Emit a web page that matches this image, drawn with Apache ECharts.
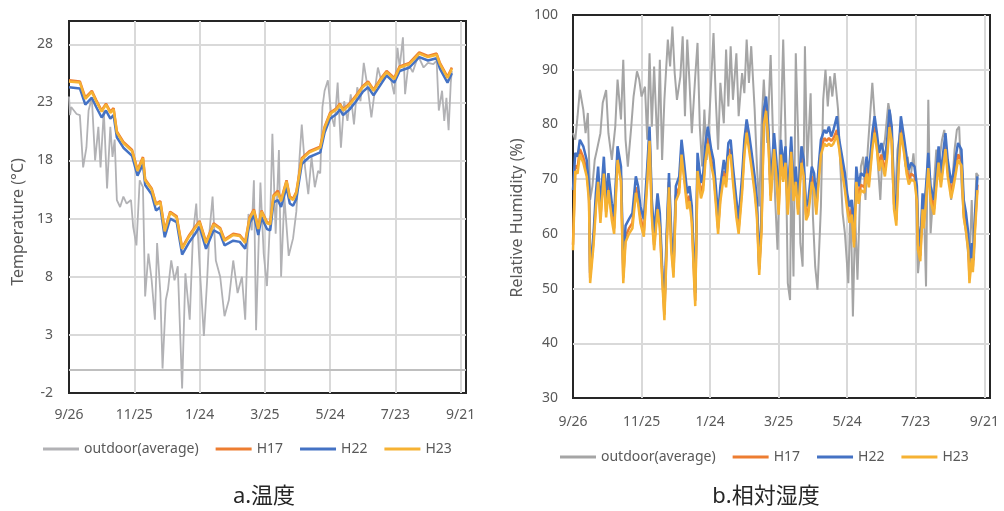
<!DOCTYPE html>
<html>
<head>
<meta charset="utf-8">
<script src="https://cdn.jsdelivr.net/npm/echarts@6/dist/echarts.min.js"></script>
<style>
  html, body { margin: 0; padding: 0; background: #fff; }
  #chart { width: 1004px; height: 511px; }
</style>
</head>
<body>
<div id="chart"></div>
<script>
// x axis = days since 9/26, gridlines every 60 days
const tickLabels = ['9/26', '11/25', '1/24', '3/25', '5/24', '7/23', '9/21'];
const seriesNames = ['outdoor(average)', 'H17', 'H22', 'H23'];

// a. temperature (°C)
const tempOutDays = [0,1,2,7,10,13,16,18,21,24,27,29,32,35,38,40,42,44,47,50,
  53,57,59,62,65,68,70,73,76,79,81,84,86,89,91,94,97,100,104,107,
  111,114,117,120,124,127,129,132,135,139,143,147,151,155,159,162,165,168,170,172,
  176,179,182,185,187,190,193,195,198,202,206,209,212,214,217,220,223,226,229,231,
  233,235,238,241,244,247,250,253,256,259,262,265,268,271,275,278,281,284,287,292,
  296,299,302,304,307,309,312,316,321,326,330,335,338,340,343,345,347,349,351,352];
const tempOut = [23.5,21.9,22.6,22.0,21.9,17.4,19.1,22.3,23.4,18.0,20.9,17.4,22.3,15.6,20.9,18.3,19.8,14.6,14.0,14.9,
  14.3,14.6,12.3,10.7,16.3,15.7,6.3,10.0,7.7,4.3,10.9,6.6,0.1,6.0,6.9,9.4,7.7,8.9,-1.6,8.3,
  4.3,11.7,14.3,9.1,2.9,7.7,11.7,14.9,9.4,8.0,4.6,6.0,9.4,6.6,8.0,4.3,13.4,12.0,16.3,3.4,
  16.1,10.0,7.2,13.1,20.3,11.7,18.9,8.0,14.9,9.8,11.3,13.6,18.3,21.1,17.4,15.1,18.3,15.7,17.1,16.9,
  22.6,24.0,24.9,22.0,20.9,24.7,19.1,23.1,21.4,23.7,21.1,24.3,23.1,26.4,24.0,21.7,23.9,26.0,24.9,25.4,
  25.0,23.7,27.7,26.0,28.6,23.7,26.3,25.6,27.0,26.0,26.4,26.3,26.6,22.3,24.0,21.4,23.4,20.6,24.7,25.7];

const tempInDays = [0,10,15,21,25,30,34,38,41,44,50,58,63,68,70,76,80,84,88,93,
  99,104,110,116,120,126,133,139,143,151,157,162,166,170,174,177,182,185,188,192,
  195,200,203,206,209,214,221,231,235,240,246,249,252,258,264,270,275,280,287,292,
  299,304,313,322,330,338,341,348,352];
const tempH17 = [24.9,24.8,23.4,24.0,23.2,22.3,22.9,22.2,22.5,20.5,19.6,18.9,17.2,18.3,16.4,15.6,14.3,14.5,12.0,13.6,
  13.2,10.5,11.5,12.3,12.8,11.0,12.6,12.2,11.2,11.7,11.6,11.0,13.1,13.8,12.2,13.7,12.7,12.6,15.0,15.4,
  14.6,16.3,14.9,14.7,15.3,18.2,18.8,19.2,20.9,22.1,22.5,22.9,22.4,22.9,23.6,24.4,24.8,24.1,25.1,25.7,
  25.1,26.1,26.4,27.3,27.0,27.2,26.4,25.2,26.0];
const tempH22 = [24.3,24.2,22.8,23.4,22.6,21.7,22.3,21.6,21.9,20.0,19.1,18.4,16.7,17.7,15.9,15.1,13.7,14.0,11.4,13.0,
  12.7,9.9,10.9,11.7,12.3,10.4,12.0,11.7,10.7,11.1,11.0,10.4,12.6,13.3,11.6,13.1,12.1,12.0,14.4,14.6,
  14.0,15.7,14.3,14.1,14.7,17.7,18.3,18.7,20.4,21.6,22.0,22.4,21.9,22.4,23.1,23.9,24.3,23.6,24.6,25.3,
  24.7,25.7,26.0,26.9,26.6,26.8,25.9,24.7,25.5];
const tempH23 = [24.8,24.7,23.3,23.9,23.1,22.2,22.8,22.1,22.4,20.4,19.5,18.8,17.1,18.2,16.3,15.5,14.2,14.4,11.9,13.5,
  13.1,10.4,11.4,12.2,12.7,10.9,12.5,12.1,11.1,11.6,11.5,10.9,13.0,13.7,12.1,13.6,12.6,12.5,14.9,15.2,
  14.5,16.2,14.8,14.6,15.2,18.1,18.7,19.1,20.8,22.0,22.4,22.8,22.3,22.8,23.5,24.3,24.7,24.0,25.0,25.6,
  25.0,26.0,26.3,27.2,26.9,27.1,26.3,25.1,25.9];

// b. relative humidity (%)
const rhOutDays = [0,2,4,6,9,11,13,15,17,19,21,24,26,29,31,34,37,39,42,44,
  46,48,51,53,56,58,60,63,65,67,69,71,74,76,78,80,83,85,87,89,
  91,94,96,98,100,102,104,107,109,111,113,115,117,120,123,125,127,129,132,134,
  136,138,140,143,145,148,150,152,154,156,159,161,163,165,167,170,173,175,177,179,
  181,184,186,188,190,191,193,195,197,199,201,203,205,208,210,212,214,217,219,221,
  223,225,227,229,232,234,236,238,241,243,245,247,249,252,254,256,258,260,262,265,
  267,269,271,273,276,278,280,282,284,287,289,291,293,295,298,300,302,305,307,309,
  311,313,316,318,320,323,325,327,329,331,334,336,338,340,342,344,347,349,351,353,355];
const rhOut = [78.4,77.2,81.5,86.3,82.7,78.4,82.1,66.2,68.7,73.5,75.4,78.4,83.9,86.3,78.4,73.5,79.6,88.2,80.9,91.8,
  77.2,72.3,79.6,85.1,89.7,88.2,85.1,86.9,77.2,93.0,79.6,90.6,75.4,91.8,73.5,84.5,95.5,90.6,97.9,89.4,
  84.5,88.8,96.1,81.5,95.5,87.6,78.4,88.8,94.9,79.6,72.3,82.7,73.5,83.9,96.7,84.5,75.4,87.6,80.2,93.7,
  83.3,94.3,84.5,93.0,81.5,89.4,85.7,95.5,87.6,94.3,82.7,72.3,65.0,79.6,88.2,76.6,92.7,78.4,66.2,57.1,
  72.3,95.5,78.4,51.0,47.9,72.3,52.2,93.0,78.4,58.3,54.0,94.3,72.3,85.7,63.2,54.0,49.8,65.0,84.5,90.0,
  83.3,88.8,85.1,89.4,82.7,72.3,63.8,60.1,51.0,66.2,44.9,63.2,51.6,72.3,74.1,66.2,75.4,81.5,87.6,78.4,
  72.3,66.2,75.4,77.2,83.9,81.5,69.3,66.2,75.4,79.6,76.6,72.3,74.1,69.3,74.7,69.3,52.8,60.1,66.2,50.4,
  84.5,60.1,69.3,75.4,72.3,77.2,79.0,74.1,71.1,66.2,75.4,79.0,79.6,69.3,63.2,60.1,54.0,66.2,55.2,71.1,70.5];

const rhInDays = [0,2,4,6,9,12,14,15,18,20,22,24,27,29,31,34,36,39,42,44,
  46,49,52,55,57,59,62,65,67,69,71,74,76,78,80,82,84,86,88,90,
  93,95,97,100,102,104,106,107,109,112,114,116,118,121,123,125,127,129,132,134,
  136,138,140,143,145,148,150,152,154,156,159,161,163,165,167,169,171,173,176,178,
  180,182,184,186,188,191,193,195,197,200,202,204,206,209,211,213,215,217,220,222,
  224,226,228,231,233,235,238,240,242,244,246,248,250,252,255,257,259,262,264,266,
  268,270,273,275,277,279,281,283,285,287,290,292,294,296,299,301,302,304,306,307,
  309,311,313,316,318,320,322,324,326,328,331,333,335,337,340,342,344,346,347,349,350,352,354];
const rhH17 = [58.0,72.5,72.0,75.5,74.0,71.5,67.0,52.0,59.0,65.5,70.5,63.0,72.0,64.0,69.0,63.5,61.0,74.5,70.5,52.0,
  59.5,61.0,62.0,68.5,66.5,63.0,60.5,70.5,78.0,64.0,58.0,65.5,62.0,53.0,45.2,58.5,69.5,58.0,53.0,67.0,
  68.5,75.5,71.5,65.5,67.0,63.0,52.5,47.8,72.5,67.5,69.0,74.5,77.5,73.5,71.5,66.5,61.0,67.0,71.5,69.5,
  75.0,75.5,70.5,64.0,61.0,68.5,75.5,79.5,76.5,73.5,68.5,64.0,53.5,61.5,81.0,83.5,78.0,67.0,76.5,71.5,
  64.5,75.5,70.5,74.0,64.5,76.0,67.0,70.5,64.5,74.0,71.5,63.5,64.5,70.5,69.0,64.5,70.5,75.5,77.5,77.0,
  77.5,77.0,77.5,79.0,76.5,73.0,69.0,65.5,63.0,64.5,58.5,70.5,66.5,69.0,68.5,72.0,69.5,76.5,79.5,76.5,
  72.5,74.5,71.5,75.0,80.5,78.0,65.5,62.5,73.0,79.5,75.5,72.0,70.0,71.0,70.5,67.0,58.0,56.0,65.5,62.0,
  67.0,73.0,67.0,64.5,69.5,74.0,69.5,73.0,76.5,71.5,67.5,69.5,72.0,74.5,73.5,64.0,61.5,58.0,52.0,56.5,54.0,62.0,69.0];
const rhH22 = [68.0,74.8,74.1,77.2,76.0,73.5,68.7,52.8,60.1,67.4,72.3,65.0,74.1,66.2,71.1,65.6,63.2,76.0,72.3,54.0,
  61.5,62.7,63.8,70.5,68.7,65.0,62.7,72.3,79.6,66.2,60.1,67.4,63.8,54.0,46.7,60.1,71.1,60.1,54.0,68.7,
  70.5,77.2,73.5,67.4,68.7,65.0,54.0,49.2,74.8,69.3,71.1,76.6,79.6,75.4,73.5,68.7,63.2,68.7,73.5,71.1,
  76.6,77.2,72.3,66.2,62.7,70.5,77.2,80.9,78.4,75.4,70.5,66.2,54.0,63.2,82.7,85.1,79.6,68.7,78.4,73.5,
  66.2,77.2,72.3,76.0,66.2,77.8,68.7,72.3,66.2,76.0,73.5,65.0,66.2,72.3,71.1,66.2,72.3,77.2,79.0,78.4,
  79.6,77.8,79.0,81.5,77.2,74.8,71.1,67.4,65.0,66.2,60.1,72.3,68.7,71.1,70.5,74.1,71.1,78.4,81.5,78.4,
  74.8,76.6,73.5,77.2,82.7,79.6,67.4,63.8,74.8,81.5,77.2,74.1,71.7,73.0,72.3,68.7,61.5,57.7,67.4,63.8,
  68.7,74.8,68.7,66.2,71.1,76.0,71.1,74.8,78.4,73.5,69.3,71.1,74.1,76.6,75.4,66.2,63.8,60.1,54.0,58.3,55.2,63.8,70.5];
const rhH23 = [57.0,71.5,71.0,74.5,73.0,70.5,66.0,51.0,58.0,64.5,69.5,62.0,71.0,63.0,68.0,62.5,60.0,73.5,69.5,51.0,
  58.5,60.0,61.0,67.5,65.5,62.0,59.5,69.5,77.0,63.0,57.0,64.5,61.0,52.0,44.2,57.5,68.5,57.0,52.0,66.0,
  67.5,74.5,70.5,64.5,66.0,62.0,51.5,46.8,71.5,66.5,68.0,73.5,76.5,72.5,70.5,65.5,60.0,66.0,70.5,68.5,
  74.0,74.5,69.5,63.0,60.0,67.5,74.5,78.5,75.5,72.5,67.5,63.0,52.5,60.5,80.0,82.5,77.0,66.0,75.5,70.5,
  63.5,74.5,69.5,73.0,63.5,75.0,66.0,69.5,63.5,73.0,70.5,62.5,63.5,69.5,68.0,63.5,69.5,74.5,76.5,76.0,
  76.5,76.0,76.5,78.0,75.5,72.0,68.0,64.5,62.0,63.5,57.5,69.5,65.5,68.0,67.5,71.0,68.5,75.5,78.5,75.5,
  71.5,73.5,70.5,74.0,79.5,77.0,64.5,61.5,72.0,78.5,74.5,71.0,69.0,70.0,69.5,66.0,57.0,55.0,64.5,61.0,
  66.0,72.0,66.0,63.5,68.5,73.0,68.5,72.0,75.5,70.5,66.5,68.5,71.0,73.5,72.5,63.0,60.5,57.0,51.0,55.5,53.0,61.0,68.0];

const colors = { out: '#B2B2B5', outRh: '#A5A5A5', h17: '#ED7D31', h22: '#4472C4', h23: '#F6B233' };
const font = '"Noto Sans", "Noto Sans CJK JP", sans-serif';
const textGray = '#595959';

function pairs(days, vals) {
  return days.map((d, i) => [d, vals[i]]);
}

function xAxisFor(gridIndex, margin) {
  return {
    gridIndex: gridIndex,
    type: 'value',
    min: 0,
    max: 365,
    interval: 60,
    axisLine: { show: false },
    axisTick: { show: false },
    axisLabel: {
      color: textGray, fontSize: 14, fontFamily: font, margin: margin,
      showMaxLabel: false,
      formatter: (v) => (v % 60 === 0 ? tickLabels[v / 60] : '')
    },
    splitLine: { show: true, showMinLine: false, showMaxLine: false, lineStyle: { color: '#D9D9D9', width: 2 } }
  };
}

function lineSeries(name, x, y, data, color, width) {
  return {
    name: name,
    type: 'line',
    xAxisIndex: x,
    yAxisIndex: y,
    data: data,
    showSymbol: false,
    symbol: 'none',
    color: color,
    lineStyle: { color: color, width: width },
    silent: true
  };
}

const chart = echarts.init(document.getElementById('chart'));

const outTemp = lineSeries(seriesNames[0], 0, 0, pairs(tempOutDays, tempOut), colors.out, 1.8);
// Excel draws the category axis where y = 0
outTemp.markLine = {
  silent: true,
  symbol: 'none',
  label: { show: false },
  lineStyle: { color: '#BFBFBF', width: 2, type: 'solid' },
  data: [{ yAxis: 0 }]
};

const option = {
  animation: false,
  backgroundColor: '#fff',
  textStyle: { fontFamily: font },
  grid: [
    { left: 69, top: 21, width: 397, height: 372, show: true, borderColor: '#262626', borderWidth: 2, backgroundColor: 'transparent' },
    { left: 573, top: 15, width: 417, height: 383, show: true, borderColor: '#262626', borderWidth: 2, backgroundColor: 'transparent' }
  ],
  xAxis: [xAxisFor(0, 15), xAxisFor(1, 17)],
  yAxis: [
    {
      gridIndex: 0, type: 'value', min: -2, max: 30, interval: 5,
      axisLine: { show: false }, axisTick: { show: false },
      axisLabel: { color: textGray, fontSize: 14, fontFamily: font, margin: 16,
        formatter: (v) => (v === 30 ? '' : String(v)) },
      splitLine: { show: true, showMinLine: false, showMaxLine: false, lineStyle: { color: '#D9D9D9', width: 2 } }
    },
    {
      gridIndex: 1, type: 'value', min: 30, max: 100, interval: 10,
      axisLine: { show: false }, axisTick: { show: false },
      axisLabel: { color: textGray, fontSize: 14, fontFamily: font, margin: 15 },
      splitLine: { show: true, showMinLine: false, showMaxLine: false, lineStyle: { color: '#D9D9D9', width: 2 } }
    }
  ],
  legend: [
    {
      left: 38, top: 437, itemWidth: 36, itemHeight: 3, itemGap: 17, icon: 'rect',
      textStyle: { color: textGray, fontSize: 14, fontFamily: font },
      data: seriesNames.map((n) => ({ name: n }))
    },
    {
      left: 555, top: 445, itemWidth: 36, itemHeight: 3, itemGap: 17, icon: 'rect',
      textStyle: { color: textGray, fontSize: 14, fontFamily: font },
      data: [
        { name: seriesNames[0], itemStyle: { color: colors.outRh } },
        { name: seriesNames[1] }, { name: seriesNames[2] }, { name: seriesNames[3] }
      ]
    }
  ],
  graphic: [
    { type: 'text', x: 18, y: 222, rotation: Math.PI / 2,
      style: { text: 'Temperature (°C)', fill: textGray, font: '16px ' + font, align: 'center', verticalAlign: 'middle' } },
    { type: 'text', x: 517, y: 218, rotation: Math.PI / 2,
      style: { text: 'Relative Humidity (%)', fill: textGray, font: '16px ' + font, align: 'center', verticalAlign: 'middle' } },
    { type: 'text', x: 264, y: 497,
      style: { text: 'a.温度', fill: '#262626', font: '22px ' + font, align: 'center', verticalAlign: 'middle' } },
    { type: 'text', x: 766, y: 497,
      style: { text: 'b.相対湿度', fill: '#262626', font: '22px ' + font, align: 'center', verticalAlign: 'middle' } }
  ],
  series: [
    outTemp,
    lineSeries(seriesNames[1], 0, 0, pairs(tempInDays, tempH17), colors.h17, 2.5),
    lineSeries(seriesNames[2], 0, 0, pairs(tempInDays, tempH22), colors.h22, 2.5),
    lineSeries(seriesNames[3], 0, 0, pairs(tempInDays, tempH23), colors.h23, 2.5),
    lineSeries(seriesNames[0], 1, 1, pairs(rhOutDays, rhOut), colors.outRh, 2),
    lineSeries(seriesNames[1], 1, 1, pairs(rhInDays, rhH17), colors.h17, 2.5),
    lineSeries(seriesNames[2], 1, 1, pairs(rhInDays, rhH22), colors.h22, 2.5),
    lineSeries(seriesNames[3], 1, 1, pairs(rhInDays, rhH23), colors.h23, 2.5)
  ]
};

chart.setOption(option);
</script>
</body>
</html>
